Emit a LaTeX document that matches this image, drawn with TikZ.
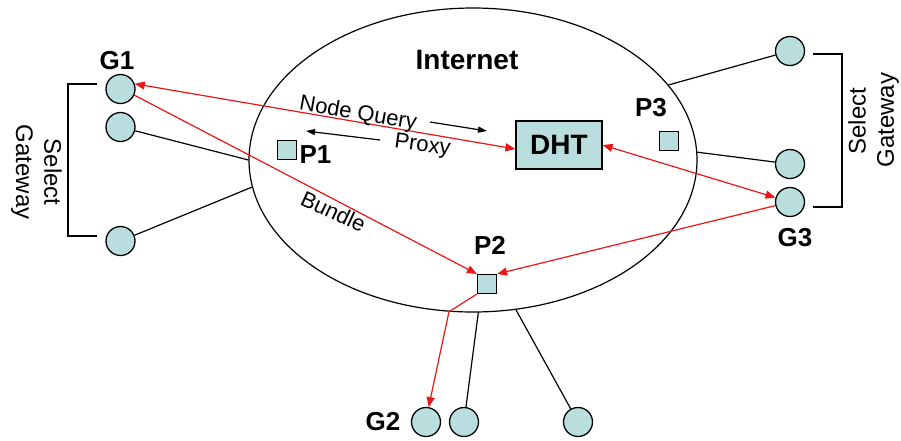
\documentclass[tikz,border=0pt]{standalone}
\usepackage{fontspec}
\setmainfont{Liberation Sans}
\usetikzlibrary{shapes.geometric,arrows.meta,calc}
\definecolor{nodefill}{RGB}{186,222,222}
\definecolor{linkred}{RGB}{236,22,22}

\begin{document}
\begin{tikzpicture}[x=1pt,y=-1pt,
  host/.style={circle,draw=black,line width=1.3pt,fill=nodefill,minimum size=29pt,inner sep=0pt},
  proxybox/.style={rectangle,draw=black,line width=1.1pt,fill=nodefill,minimum size=19pt,inner sep=0pt},
  lbl/.style={font=\fontsize{26}{26}\bfseries,inner sep=0pt},
  big/.style={font=\fontsize{28}{28}\bfseries,inner sep=0pt},
  note/.style={font=\fontsize{22}{22}\selectfont,inner sep=0pt},
  side/.style={font=\fontsize{24}{24}\selectfont,inner sep=0pt},
  wire/.style={draw=black,line width=1.2pt},
  redlink/.style={draw=linkred,line width=1.2pt,>={Triangle[length=10pt,width=8pt]}},
  blackarrow/.style={wire,->,>={Triangle[length=9pt,width=6pt]}}
]
\useasboundingbox (0,0) rectangle (901,440);

% the Internet cloud
\node[draw,ellipse,line width=1.2pt,minimum width=448pt,minimum height=304pt,inner sep=0pt] (net) at (473,160) {};
\node[big] (inet) at (467,60) {Internet};

% DHT and proxies
\node[draw=black,line width=1.2pt,fill=nodefill,minimum width=86pt,minimum height=48pt,inner sep=0pt,
      font=\fontsize{28}{28}\bfseries] (dht) at (559,145) {DHT};
\node[proxybox] (p1) at (287,150) {};
\node[proxybox] (p2) at (487,284) {};
\node[proxybox] (p3) at (669,141) {};
\node[lbl] (p1l) at (315.5,154.5) {P1};
\node[lbl] (p2l) at (490,245) {P2};
\node[lbl] (p3l) at (651,108) {P3};

% gateway hosts
\node[host] (g1)  at (120.5,89)  {};
\node[host] (h12) at (120.5,127) {};
\node[host] (h13) at (120.5,241) {};
\node[host] (h31) at (790,51)  {};
\node[host] (h32) at (790,164) {};
\node[host] (g3)  at (790,202) {};
\node[host] (g2)  at (426,422) {};
\node[host] (h22) at (464,422) {};
\node[host] (h23) at (578,422) {};
\node[lbl] (g1l) at (117,61) {G1};
\node[lbl] (g3l) at (795,238) {G3};
\node[lbl] (g2l) at (383,422) {G2};

% access links into the cloud
\draw[wire] (h12) -- (net.180);
\draw[wire] (h13) -- (net.187);
\draw[wire] (h31) -- (net.21.5);
\draw[wire] (h32) -- (net.2);
\draw[wire] (h22) -- (net.-88);
\draw[wire] (h23) -- (net.-74.5);

% gateway selection brackets
\draw[wire] (97,84) -- (68,84) -- (68,236) -- (97,236);
\draw[wire] (813,54) -- (842,54) -- (842,207) -- (813,207);
\node[side,rotate=-90] (ls) at (53,172) {Select};
\node[side,rotate=-90] (lg) at (22,172) {Gateway};
\node[side,rotate=90] (rs) at (857,121) {Select};
\node[side,rotate=90] (rg) at (888,120) {Gateway};

% message flows
\draw[redlink,<->] (g1.20) -- ($(dht.west)+(0,4)$);
\draw[redlink,->] (g1.-24) -- (p2.north west);
\draw[redlink,<->] (dht.east) -- (g3);
\draw[redlink,->] (g3) -- (p2.north east);
\coordinate (bend) at (net.-99);
\draw[redlink,->] (p2.south west) -- (bend) -- (g2.80);

% query / proxy annotations
\coordinate (nqa) at (430,122);
\coordinate (nqb) at (487,131);
\coordinate (pxa) at (380,140);
\coordinate (pxb) at (306,131);
\draw[blackarrow] (nqa) -- (nqb);
\draw[blackarrow] (pxa) -- (pxb);
\node[note,rotate=-10] (nq) at (358,114) {Node Query};
\node[note,rotate=-8] (px) at (422.5,146) {Proxy};
\node[note,rotate=-25] (bd) at (333.5,211.5) {Bundle};
\end{tikzpicture}
\end{document}
